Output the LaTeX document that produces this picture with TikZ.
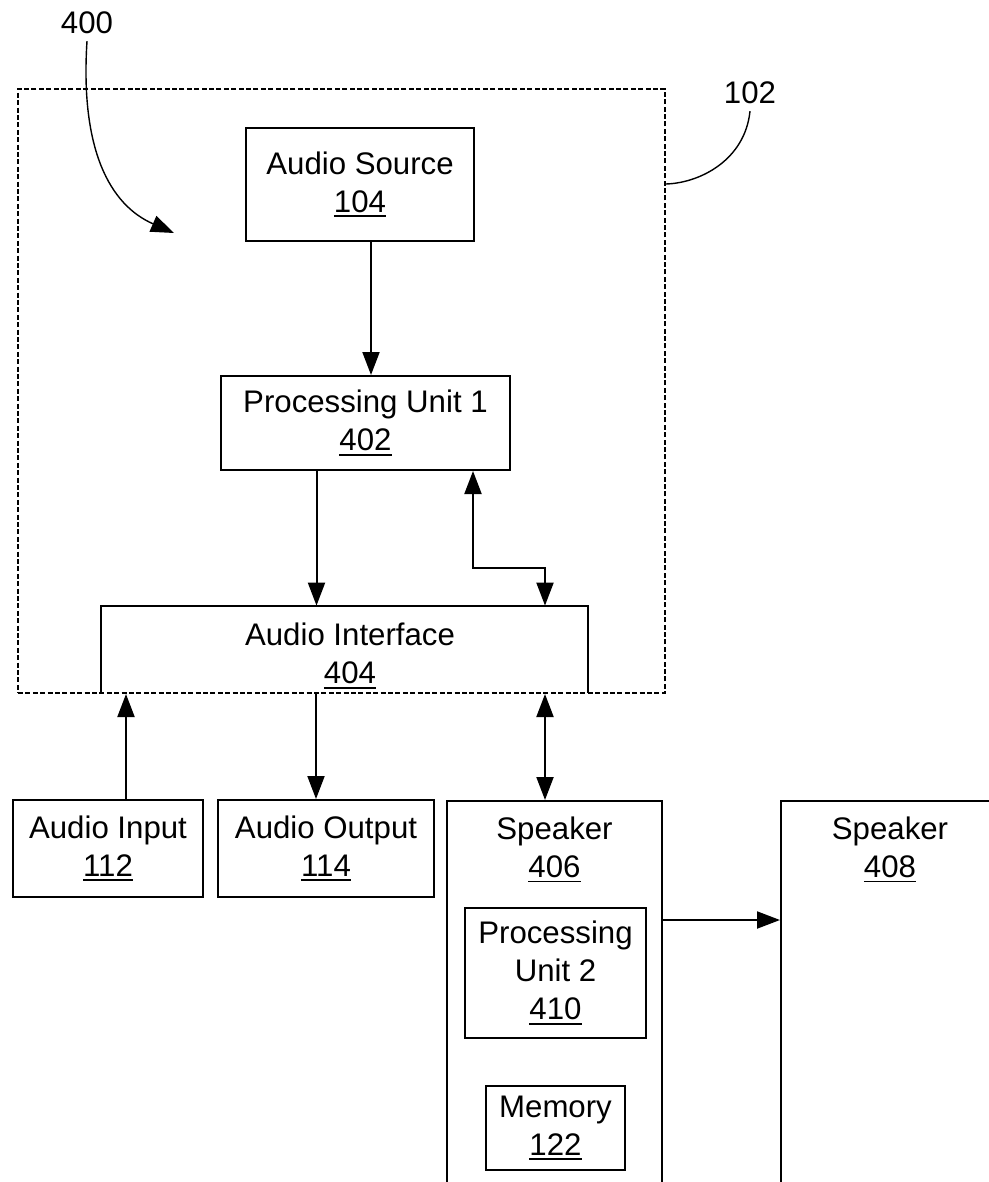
\documentclass[tikz,border=0pt]{standalone}
\usepackage{fontspec}
\setmainfont{Liberation Sans}
\usetikzlibrary{arrows.meta}
\newcommand\refnum[1]{\setbox0\hbox{#1}\rlap{\rule[-2.4pt]{\wd0}{0.9pt}}\box0}

\begin{document}
\begin{tikzpicture}[x=0.5pt, y=-0.5pt,
    every node/.style={font=\fontsize{15.6}{19}\selectfont},
    box/.style={draw, line width=1pt, align=center, inner sep=0pt},
    arr/.style={-{Triangle[length=11.5pt,width=8.5pt]}, line width=1pt},
    biarr/.style={{Triangle[length=11.5pt,width=8.5pt]}-{Triangle[length=11.5pt,width=8.5pt]}, line width=1pt}]
    % 画布
    \useasboundingbox (0,0) rectangle (989,1182);
    \clip (0,0) rectangle (989,1182);

    % 虚线框
    \node[draw, dash pattern=on 2.5pt off 1.2pt, line width=1pt, minimum width=323.5pt, minimum height=302pt] (dev) at (341.5,391) {};

    % 标号
    \node (n400) at (87,23) {400};
    \node (n102) at (750,93) {102};
    \coordinate (tgt400) at (174,233);
    \draw[arr, line width=0.7pt] (n400.south) .. controls (80,150) and (110,205) .. (tgt400);
    \draw[line width=0.7pt] (n102.south) .. controls (745,160) and (700,183) .. ([yshift=-48pt]dev.north east);

    % 方框
    \node[box, minimum width=114pt, minimum height=56.5pt] (src) at (360,184.5) {Audio Source\\\refnum{104}};
    \node[box, minimum width=144.5pt, minimum height=47pt] (pu1) at (365.5,423) {Processing Unit 1\\\refnum{402}};
    \node[minimum width=243.5pt, minimum height=43.5pt, inner sep=0pt,
        label={[align=center, xshift=2.75pt, yshift=-3.25pt]center:Audio Interface\\\refnum{404}}] (ai) at (344.5,649.5) {};
    \draw[line width=1pt] (ai.south west) |- (ai.north east) -- (ai.south east);
    \node[box, minimum width=95pt, minimum height=48.5pt] (ain) at (108,848.5) {Audio Input\\\refnum{112}};
    \node[box, minimum width=108pt, minimum height=48.5pt] (aout) at (326,848.5) {Audio Output\\\refnum{114}};
    \node[box, anchor=north, minimum width=107.5pt, minimum height=200pt,
        label={[align=center, anchor=north, yshift=-5pt]north:Speaker\\\refnum{406}}] (spk406) at (554.5,800) {};
    \node[box, minimum width=90.5pt, minimum height=65pt] (pu2) at (555.5,973) {Processing\\Unit 2\\\refnum{410}};
    \node[box, minimum width=69.5pt, minimum height=42pt] (mem) at (555.5,1128) {Memory\\\refnum{122}};
    \node[box, anchor=north, minimum width=109pt, minimum height=200pt,
        label={[align=center, anchor=north, yshift=-5pt]north:Speaker\\\refnum{408}}] (spk408) at (890,800) {};

    % 连线
    \draw[arr] ([xshift=5.5pt]src.south) -- ([xshift=5.5pt]src.south |- pu1.north);
    \draw[arr] ([xshift=-24.5pt]pu1.south) -- ([xshift=-24.5pt]pu1.south |- ai.north);
    \draw[biarr] ([xshift=53.75pt]pu1.south) -- ++(0,-48.5pt) -| ([xshift=100.25pt]ai.north);
    \draw[arr] ([xshift=9pt]ain.north) -- ([xshift=9pt]ain.north |- dev.south);
    \draw[arr] ([xshift=-5pt]aout.north |- dev.south) -- ([xshift=-5pt]aout.north);
    \draw[biarr] ([xshift=-4.75pt]spk406.north |- dev.south) -- ([xshift=-4.75pt]spk406.north);
    \draw[arr] ([yshift=-60pt]spk406.north east) -- ([yshift=-60pt]spk408.north west);
\end{tikzpicture}
\end{document}
